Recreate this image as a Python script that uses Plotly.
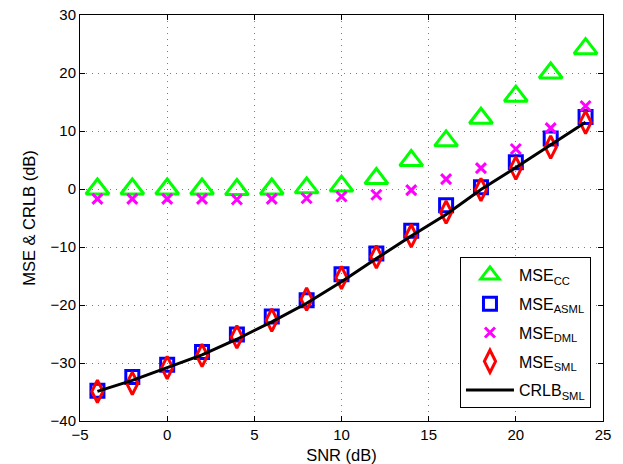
import plotly.graph_objects as go

snr = [-4, -2, 0, 2, 4, 6, 8, 10, 12, 14, 16, 18, 20, 22, 24]
mse_cc = [0.0, 0.0, 0.0, 0.0, -0.1, 0.0, 0.2, 0.5, 1.8, 4.9, 8.3, 12.2, 16.0, 20.0, 24.2]
mse_asml = [-34.8, -32.4, -30.3, -28.1, -25.1, -22.0, -19.2, -14.7, -11.1, -7.2, -2.8, 0.3, 4.6, 8.7, 12.4]
mse_dml = [-1.7, -1.7, -1.7, -1.7, -1.8, -1.7, -1.6, -1.3, -1.0, -0.2, 1.7, 3.6, 6.9, 10.5, 14.3]
mse_sml = [-34.9, -33.5, -30.8, -28.7, -25.5, -22.6, -19.0, -15.3, -11.7, -8.1, -4.0, -0.1, 3.6, 7.2, 11.5]
crlb_sml = [-34.9, -33.0, -30.8, -28.6, -25.9, -22.9, -19.7, -16.0, -12.0, -8.1, -4.4, -0.1, 3.7, 7.6, 11.5]

x_ticks = [-5, 0, 5, 10, 15, 20, 25]
y_ticks = [-40, -30, -20, -10, 0, 10, 20, 30]

font_family = "Liberation Sans, Arial, Helvetica, sans-serif"

fig = go.Figure()
fig.add_trace(go.Scatter(
    x=snr, y=mse_cc, mode="markers", name="MSE<sub>CC</sub>", legendgroup="a",
    marker=dict(symbol="triangle-up-open", size=20, color="#00ff00",
                line=dict(color="#00ff00", width=3))))
fig.add_trace(go.Scatter(
    x=snr, y=mse_asml, mode="markers", name="MSE<sub>ASML</sub>", legendgroup="b",
    marker=dict(symbol="square-open", size=13, color="#0000ff",
                line=dict(color="#0000ff", width=3))))
fig.add_trace(go.Scatter(
    x=snr, y=mse_dml, mode="markers", name="MSE<sub>DML</sub>", legendgroup="c",
    marker=dict(symbol="x-thin", size=10, color="#ff00ff",
                line=dict(color="#ff00ff", width=3))))
fig.add_trace(go.Scatter(
    x=snr, y=mse_sml, mode="markers", name="MSE<sub>SML</sub>", legendgroup="d",
    marker=dict(symbol="diamond-tall-open", size=16, color="#ff0000",
                line=dict(color="#ff0000", width=3))))
fig.add_trace(go.Scatter(
    x=snr, y=crlb_sml, mode="lines", name="CRLB<sub>SML</sub>", legendgroup="e",
    line=dict(color="black", width=3)))

axis_common = dict(
    showline=True, linecolor="black", linewidth=1, mirror="ticks",
    ticks="inside", ticklen=5, tickcolor="black", tickwidth=1,
    showgrid=True, gridcolor="#7a7a7a", griddash="1px,5px", gridwidth=1,
    zeroline=False, ticklabeloverflow="allow", automargin=False,
    tickfont=dict(size=15, color="black", family=font_family),
)

fig.update_layout(
    width=623, height=464,
    margin=dict(l=72, r=28, t=7, b=51),
    paper_bgcolor="white", plot_bgcolor="white",
    font=dict(family=font_family, color="black", size=15),
    xaxis=dict(range=[-5, 25], tickvals=x_ticks,
               title=dict(text="SNR (dB)", font=dict(size=16.5), standoff=7),
               **axis_common),
    yaxis=dict(range=[-40, 30], tickvals=y_ticks,
               title=dict(text="MSE &amp; CRLB (dB)", font=dict(size=16.5), standoff=10),
               **axis_common),
    legend=dict(
        x=0.977, y=0.032, xanchor="right", yanchor="bottom",
        bgcolor="white", bordercolor="black", borderwidth=1,
        font=dict(size=16, family=font_family, color="black"),
        tracegroupgap=5, itemwidth=48, itemsizing="trace",
    ),
    showlegend=True,
)

fig.write_html("out.html")
